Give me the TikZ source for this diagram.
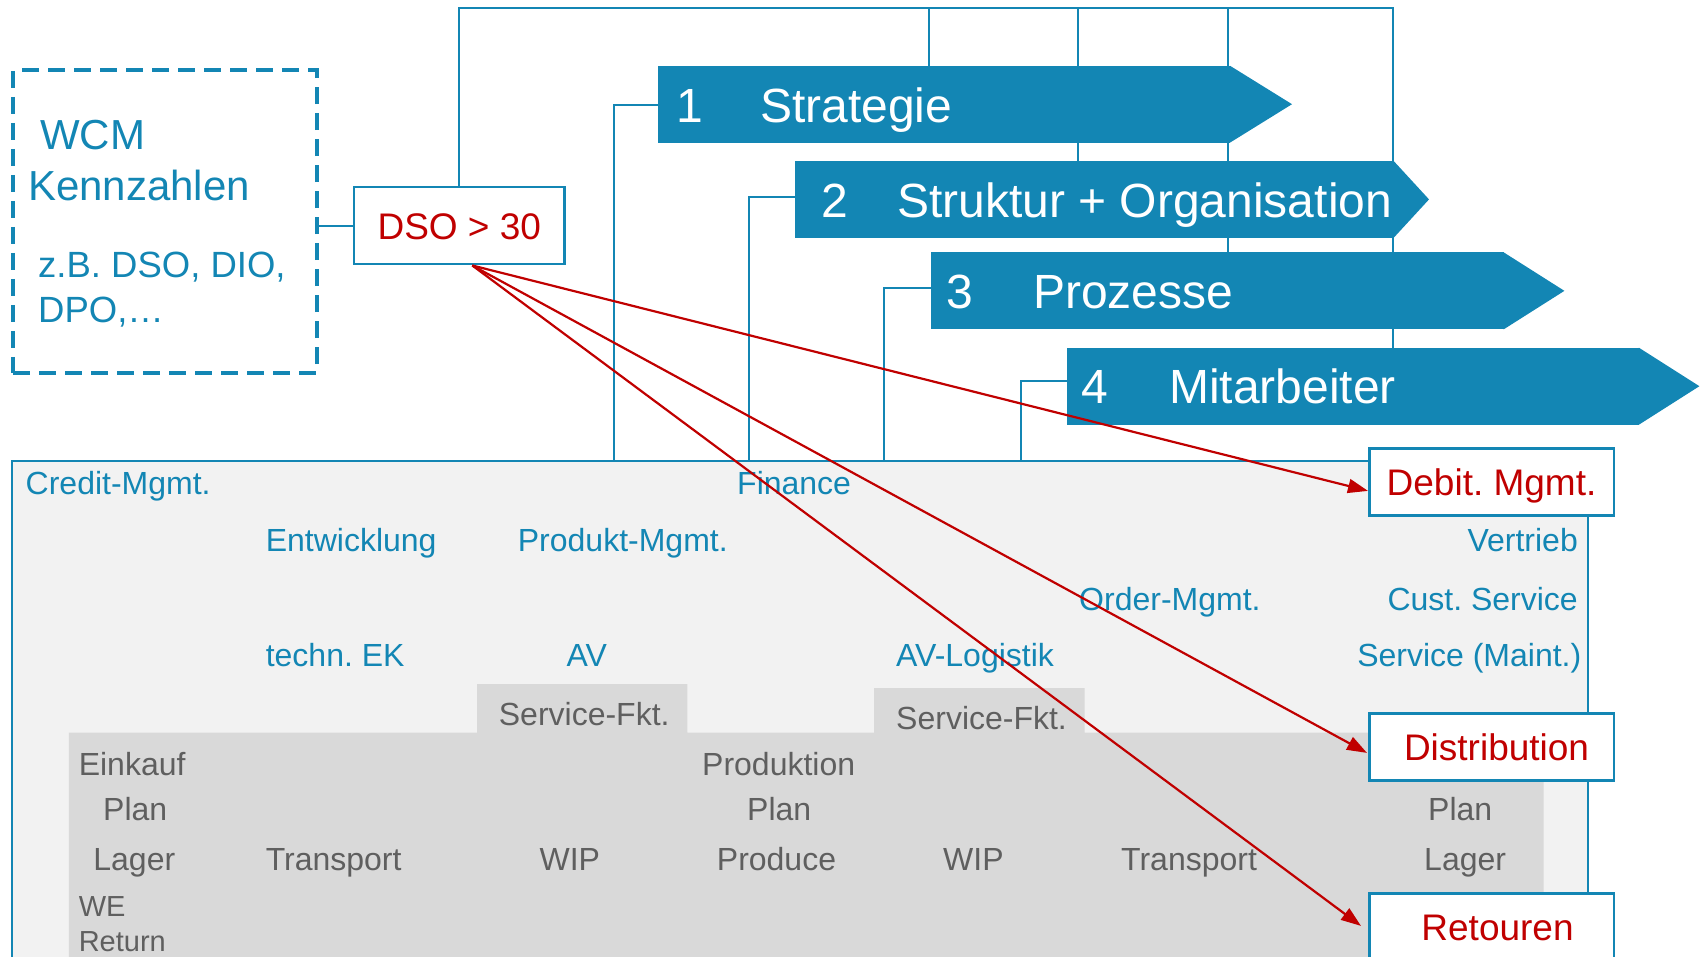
\documentclass[tikz,border=0pt]{standalone}
\usepackage{fontspec}
\setmainfont{Liberation Sans}
\usetikzlibrary{arrows.meta,calc}
\definecolor{bblue}{RGB}{19,134,180}
\definecolor{rred}{RGB}{192,0,0}
\definecolor{lgrey}{RGB}{242,242,242}
\definecolor{dgrey}{RGB}{217,217,217}
\definecolor{tgrey}{RGB}{95,95,95}
\begin{document}
\frenchspacing
\begin{tikzpicture}[x=1pt,y=-1pt,
  conn/.style={draw=bblue,line width=2pt},
  redarr/.style={draw=rred,line width=2.2pt,-{Triangle[length=20pt,width=14pt]}},
  chev/.style={fill=bblue,inner sep=0pt,anchor=north west},
  boxtxt/.style={text=white,font=\fontsize{48}{56}\selectfont,inner sep=0pt,anchor=base west},
  lbl/.style={text=bblue,font=\fontsize{32}{38}\selectfont,inner sep=0pt,anchor=base west},
  rlbl/.style={lbl,anchor=base east},
  glbl/.style={text=tgrey,font=\fontsize{32}{38}\selectfont,inner sep=0pt,anchor=base west},
  wtxt/.style={text=bblue,font=\fontsize{42}{48}\selectfont,inner sep=0pt,anchor=base west},
  redbox/.style={draw=bblue,line width=2.5pt,fill=white,inner sep=0pt,minimum width=244.6pt,minimum height=66.7pt,anchor=north west,text=rred,font=\fontsize{37}{44}\selectfont,text height=27pt,text depth=0pt},
]
\useasboundingbox (0,0) rectangle (1701,957);

% organisation area
\node[draw=bblue,line width=2pt,fill=lgrey,anchor=north west,minimum width=1575.7pt,minimum height=520pt,inner sep=0pt] (area) at (10.8,460) {};
\fill[dgrey] (68.8,990) -- (68.8,732.7) -- (477,732.7) -- (477,684) -- (687.4,684) -- (687.4,732.7)
  -- (874,732.7) -- (874,688) -- (1084.5,688) -- (1084.5,732.7) -- (1543.6,732.7) -- (1543.6,990) -- cycle;

% blue labels
\node[lbl] (credit) at (25.5,495) {Credit-Mgmt.};
\node[lbl] (finance) at (737,495) {Finance};
\node[lbl] (entw) at (265.6,551.7) {Entwicklung};
\node[lbl] (prodm) at (517.7,551.7) {Produkt-Mgmt.};
\node[rlbl] (vertrieb) at (1578,551.7) {Vertrieb};
\node[lbl] (order) at (1079,610) {Order-Mgmt.};
\node[rlbl] (cust) at (1578,610) {Cust. Service};
\node[lbl] (techn) at (265.6,666.7) {techn. EK};
\node[lbl] (av) at (566.5,666.7) {AV};
\node[lbl] (avlog) at (896,666.7) {AV-Logistik};
\node[rlbl] (maint) at (1581.5,666.7) {Service (Maint.)};

% grey labels
\node[glbl] (sf1) at (498.7,725) {Service-Fkt.};
\node[glbl] (sf2) at (896,729) {Service-Fkt.};
\node[glbl] (einkauf) at (78.6,775) {Einkauf};
\node[glbl] (produktion) at (702,775) {Produktion};
\node[glbl] (plan1) at (103,820.7) {Plan};
\node[glbl] (plan2) at (747,820.7) {Plan};
\node[glbl] (plan3) at (1428,820.7) {Plan};
\node[glbl] (lager1) at (93.2,870) {Lager};
\node[glbl] (transp1) at (265.6,870) {Transport};
\node[glbl] (wip1) at (539.4,870) {WIP};
\node[glbl] (produce) at (716.7,870) {Produce};
\node[glbl] (wip2) at (943,870) {WIP};
\node[glbl] (transp2) at (1121,870) {Transport};
\node[glbl] (lager2) at (1424,870) {Lager};
\node[glbl,font=\fontsize{29}{34}\selectfont] (we) at (78.6,916.7) {WE};
\node[glbl,font=\fontsize{29}{34}\selectfont] (ret) at (78.6,951.7) {Return};

% chevron bodies (nodes) for naming
\node[chev,minimum width=571.7pt,minimum height=76.6pt] (b1) at (658.3,65.7) {};
\node[chev,minimum width=598.3pt,minimum height=77pt] (b2) at (795.2,160.7) {};
\node[chev,minimum width=572.3pt,minimum height=76.7pt] (b3) at (931.4,252.3) {};
\node[chev,minimum width=572pt,minimum height=76.6pt] (b4) at (1067,347.7) {};

% WCM box and DSO box
\node[draw=bblue,line width=4pt,dash pattern=on 17pt off 9pt,anchor=north west,minimum width=303.5pt,minimum height=302.4pt,inner sep=0pt] (wcm) at (11.2,68.3) {};
\node[draw=bblue,line width=2.5pt,fill=white,anchor=north west,minimum width=210.7pt,minimum height=77.3pt,inner sep=0pt,text=rred,font=\fontsize{37}{44}\selectfont,text height=27pt,text depth=0pt] (dso) at (352.7,185.7) {DSO > 30};

% blue connectors
\coordinate (c1) at (928.6,7.7);
\coordinate (c2) at (1078,7.7);
\coordinate (c3) at (1228,7.7);
\coordinate (c4) at (1393,7.7);
\coordinate (v1) at (614,460);
\coordinate (v2) at (749,460);
\coordinate (v3) at (884,460);
\coordinate (v4) at (1021,460);
\draw[conn] (dso.north) |- (c4) -- (c4 |- b4.north);
\draw[conn] (c1) -- (c1 |- b1.north);
\draw[conn] (c2) -- (c2 |- b2.north);
\draw[conn] (c3) -- (c3 |- b3.north);
\draw[conn] ($(b1.west)+(0,1)$) -| (v1);
\draw[conn] ($(b2.west)+(0,-2)$) -| (v2);
\draw[conn] ($(b3.west)+(0,-2.5)$) -| (v3);
\draw[conn] ($(b4.west)+(0,-5)$) -| (v4);
\draw[conn] (dso.west -| wcm.east) -- (dso.west);

% chevrons redrawn on top of the connectors
\fill[bblue] (b1.north west) rectangle (b1.south east);
\fill[bblue] ($(b1.north east)+(-0.5,0)$) -- ($(b1.east)+(61.6,0)$) -- ($(b1.south east)+(-0.5,0)$) -- cycle;
\fill[bblue] (b2.north west) rectangle (b2.south east);
\fill[bblue] ($(b2.north east)+(-0.5,0)$) -- ($(b2.east)+(35.1,0)$) -- ($(b2.south east)+(-0.5,0)$) -- cycle;
\fill[bblue] (b3.north west) rectangle (b3.south east);
\fill[bblue] ($(b3.north east)+(-0.5,0)$) -- ($(b3.east)+(60.3,0)$) -- ($(b3.south east)+(-0.5,0)$) -- cycle;
\fill[bblue] (b4.north west) rectangle (b4.south east);
\fill[bblue] ($(b4.north east)+(-0.5,0)$) -- ($(b4.east)+(60,0)$) -- ($(b4.south east)+(-0.5,0)$) -- cycle;

\node[boxtxt] (n1) at (676,123) {1};
\node[boxtxt] (t1) at (760,123) {Strategie};
\node[boxtxt] (n2) at (821,218) {2};
\node[boxtxt] (t2) at (897,218) {Struktur + Organisation};
\node[boxtxt] (n3) at (946,309) {3};
\node[boxtxt] (t3) at (1033,309) {Prozesse};
\node[boxtxt] (n4) at (1081,404) {4};
\node[boxtxt] (t4) at (1169,404) {Mitarbeiter};

% WCM text
\node[wtxt] (w1) at (40,150) {WCM};
\node[wtxt] (w2) at (28,201) {Kennzahlen};
\node[wtxt,font=\fontsize{36.5}{44}\selectfont] (w3) at (38,277.5) {z.B. DSO, DIO,};
\node[wtxt,font=\fontsize{36.5}{44}\selectfont] (w4) at (38,323) {DPO,…};

% red target boxes
\node[redbox] (debit) at (1368,447.3) {Debit. Mgmt.};
\node[redbox] (distr) at (1368,712.3) {\hspace*{10pt}Distribution};
\node[redbox] (retour) at (1368,892.3) {\hspace*{12pt}Retouren};

% red arrows
\coordinate (src) at ($(dso.south)+(13,0)$);
\draw[redarr] (src) -- ($(debit.west)+(0,9)$);
\draw[redarr] (src) -- ($(distr.west)+(-1,6)$);
\draw[redarr] (src) -- ($(retour.west)+(-7,-1)$);
\end{tikzpicture}
\end{document}
